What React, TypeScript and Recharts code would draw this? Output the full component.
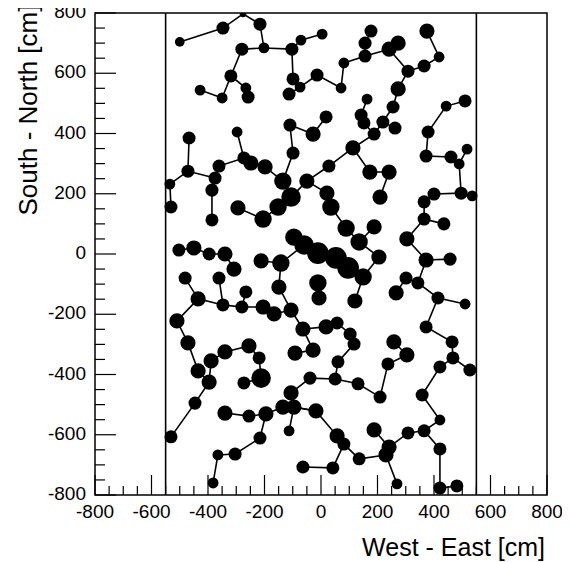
import React from 'react';
import { ScatterChart, Scatter, XAxis, YAxis, ZAxis, ReferenceLine, ReferenceArea } from 'recharts';

// Hit positions [id, West-East cm, South-North cm, pulse amplitude]
const nodesNorth: [string, number, number, number][] = [
  ['A1', -500, 704, 20], ['A2', -347, 750, 36], ['A3', -276, 797, 9], ['A4', -216, 763, 36],
  ['A5', -202, 684, 25], ['A6', -280, 680, 36], ['A7', -103, 680, 36], ['A8', -71, 710, 25],
  ['A9', 4, 730, 25], ['A10', -319, 591, 36], ['A11', -266, 551, 25], ['A12', -258, 521, 36],
  ['A13', -428, 544, 25], ['A14', -350, 518, 25], ['A15', -99, 581, 36], ['A16', -74, 554, 25],
  ['A17', -113, 531, 36], ['A18', -14, 594, 36], ['A19', -110, 428, 36], ['A20', -297, 405, 25],
  ['B1', 177, 740, 36], ['B2', 156, 700, 36], ['B3', 156, 657, 36], ['B4', 81, 634, 25],
  ['B5', 71, 551, 25], ['B6', 241, 680, 49], ['B7', 273, 700, 49], ['B8', 308, 607, 36],
  ['B9', 365, 624, 36], ['B10', 418, 654, 25], ['B11', 375, 740, 49], ['B12', 273, 548, 49],
  ['B13', 255, 488, 36], ['B14', 219, 438, 36], ['B15', 262, 418, 36], ['B16', 163, 514, 25],
  ['B17', 142, 461, 36], ['B18', 152, 435, 36], ['B19', 18, 455, 36], ['B20', 443, 491, 25],
  ['B21', 510, 508, 36], ['B22', 379, 405, 36],
];

const nodesUpper: [string, number, number, number][] = [
  ['C1', -28, 398, 49], ['C2', -467, 385, 36], ['C3', -99, 335, 36], ['C4', -273, 319, 36],
  ['C5', -248, 302, 49], ['C6', -361, 292, 36], ['C7', -198, 289, 49], ['C8', -471, 275, 36],
  ['C9', -375, 252, 36], ['C10', -535, 232, 25], ['C11', -135, 242, 64], ['C12', -50, 242, 49],
  ['C13', -386, 212, 36], ['C14', -106, 189, 81], ['C15', -152, 156, 64], ['C16', -531, 156, 36],
  ['C17', -294, 153, 49], ['C18', -205, 116, 64], ['C19', -386, 113, 36], ['C20', -96, 56, 64],
  ['C21', -60, 30, 81],
  ['D1', 188, 398, 36], ['D2', 113, 352, 49], ['D3', 372, 325, 36], ['D4', 460, 322, 36],
  ['D5', 489, 299, 25], ['D6', 517, 348, 25], ['D7', 173, 272, 49], ['D8', 241, 272, 49],
  ['D9', 209, 189, 49], ['D10', 28, 292, 36], ['D11', 21, 202, 49], ['D12', 35, 156, 64],
  ['D13', 89, 86, 64], ['D14', 188, 90, 49], ['D15', 135, 40, 64], ['D16', 400, 199, 36],
  ['D17', 365, 173, 36], ['D18', 496, 202, 36], ['D19', 535, 193, 25], ['D20', 365, 116, 36],
  ['D21', 435, 100, 36], ['D22', 304, 50, 49],
];

const nodesMiddle: [string, number, number, number][] = [
  ['E1', -503, 13, 36], ['E2', -450, 20, 49], ['E3', -396, 0, 36], ['E4', -340, 0, 49],
  ['E5', -308, -50, 49], ['E6', -212, -23, 49], ['E7', -142, -30, 64], ['E9', -11, 3, 100],
  ['E10', -481, -80, 36], ['E11', -361, -80, 36], ['E12', -266, -126, 36], ['E13', -149, -110, 49],
  ['E14', -11, -96, 64], ['E15', -7, -146, 49], ['E16', -435, -149, 49], ['E17', -347, -169, 36],
  ['E18', -280, -176, 36], ['E19', -205, -176, 49], ['E20', -166, -199, 49], ['E21', -106, -186, 49],
  ['E22', -510, -222, 49], ['E23', -64, -249, 49], ['E24', -28, -319, 49], ['E25', -92, -329, 49],
  ['E26', -471, -295, 49], ['E27', -340, -325, 49], ['E28', -255, -305, 49], ['E29', -219, -345, 36],
  ['E30', -389, -355, 49],
  ['F2', 53, -13, 100], ['F3', 96, -46, 100], ['F5', 205, -10, 49], ['F6', 149, -76, 64],
  ['F9', 120, -156, 49], ['F11', 372, -20, 49], ['F12', 457, -17, 36], ['F13', 301, -80, 36],
  ['F14', 343, -96, 36], ['F15', 266, -129, 49], ['F16', 414, -146, 36], ['F17', 510, -166, 25],
  ['F18', 372, -242, 36], ['F19', 464, -292, 36], ['F20', 467, -345, 36], ['F21', 527, -385, 36],
  ['F22', 421, -375, 36], ['F23', 18, -242, 49], ['F24', 57, -229, 36], ['F25', 103, -266, 36],
  ['F26', 117, -299, 36], ['F28', 60, -358, 36], ['F29', 258, -292, 49], ['F30', 304, -335, 49],
  ['F31', 237, -365, 36],
];

const nodesSouth: [string, number, number, number][] = [
  ['G1', -435, -388, 49], ['G2', -396, -425, 49], ['G3', -446, -495, 36], ['G4', -531, -607, 36],
  ['G5', -212, -412, 81], ['G6', -273, -428, 36], ['G8', -106, -461, 49], ['G9', -39, -412, 36],
  ['G10', -340, -528, 49], ['G11', -255, -538, 36], ['G12', -195, -531, 49], ['G13', -135, -508, 49],
  ['G14', -96, -508, 49], ['G15', -18, -521, 49], ['G16', -113, -587, 25], ['G17', -216, -611, 36],
  ['G18', -304, -664, 36], ['G19', -365, -667, 25], ['G20', -382, -760, 25], ['G21', -64, -707, 36],
  ['H1', 50, -415, 36], ['H2', 131, -431, 36], ['H3', 209, -475, 36], ['H5', 358, -468, 36],
  ['H6', 421, -551, 25], ['H7', 57, -604, 49], ['H8', 81, -631, 36], ['H9', 188, -584, 49],
  ['H10', 135, -680, 36], ['H11', 241, -641, 49], ['H12', 230, -667, 49], ['H13', 308, -594, 36],
  ['H14', 365, -587, 36], ['H15', 421, -647, 36], ['H16', 42, -710, 36], ['H17', 269, -763, 25],
  ['H18', 421, -777, 36], ['H19', 481, -770, 36],
];

// Connections (spanning-tree branches) by hit id
const branches: string[][] = [
  ['A1', 'A2', 'A3', 'A4', 'A5', 'A6', 'A10', 'A11', 'A12'],
  ['A10', 'A14', 'A13'],
  ['A5', 'A7', 'A8', 'A9'],
  ['A7', 'A15', 'A16', 'A17'],
  ['A16', 'A18', 'B5', 'B4', 'B3', 'B2', 'B1'],
  ['B3', 'B6', 'B7'],
  ['B6', 'B8', 'B9', 'B10', 'B11'],
  ['B8', 'B12', 'B13', 'B14', 'B15'],
  ['B14', 'D1', 'D2'],
  ['B16', 'B17', 'B18', 'D1'],
  ['B19', 'C1', 'A19', 'C3', 'C11', 'C7', 'C5', 'C4', 'A20'],
  ['C4', 'C6', 'C9', 'C8', 'C2'],
  ['C8', 'C10', 'C16'],
  ['C9', 'C13', 'C19'],
  ['C11', 'C14', 'C12', 'D10', 'D2', 'D7', 'D8', 'D9'],
  ['C14', 'C15', 'C18', 'C17'],
  ['C12', 'D11', 'D12', 'D13', 'D15', 'F5', 'F6', 'F9'],
  ['D14', 'D15'],
  ['B21', 'B20', 'B22', 'D3', 'D4', 'D5', 'D6'],
  ['D5', 'D18', 'D19'],
  ['D18', 'D16', 'D17', 'D20', 'D21'],
  ['D20', 'D22', 'F11', 'F12'],
  ['F11', 'F14', 'F13', 'F15'],
  ['F14', 'F16', 'F17'],
  ['F16', 'F18', 'F19', 'F20', 'F21'],
  ['F20', 'F22', 'H5', 'H6', 'H14', 'H13', 'H11', 'H9'],
  ['H14', 'H15', 'H18', 'H19'],
  ['H11', 'H12', 'H17'],
  ['H12', 'H10', 'H8', 'H7', 'G15', 'G14'],
  ['H8', 'H16', 'G21'],
  ['C20', 'C21', 'E9', 'F2', 'F3', 'F6'],
  ['E6', 'E7', 'C21'],
  ['E1', 'E2', 'E3', 'E4', 'E5'],
  ['E7', 'E13', 'E21', 'E23', 'E24', 'E25'],
  ['E21', 'E20', 'E19', 'E18', 'E12'],
  ['E18', 'E17', 'E11'],
  ['E17', 'E16', 'E10'],
  ['E16', 'E22', 'E26', 'G1', 'G2', 'G3', 'G4'],
  ['E30', 'G2'],
  ['E30', 'E27', 'E28', 'E29', 'G5', 'G6'],
  ['E23', 'F23', 'F24', 'F25', 'F26', 'F28', 'H1'],
  ['G9', 'H1', 'H2', 'H3', 'F31', 'F30', 'F29'],
  ['G9', 'G8', 'G14', 'G15'],
  ['G14', 'G16'],
  ['G14', 'G13', 'G12', 'G11', 'G10'],
  ['G12', 'G17', 'G18', 'G19', 'G20'],
  ['E14', 'E15'],
];

const detectorEdges = [-550, 550];
const axisTicks = [
  -800, -750, -700, -650, -600, -550, -500, -450, -400, -350, -300, -250, -200, -150, -100, -50,
  0, 50, 100, 150, 200, 250, 300, 350, 400, 450, 500, 550, 600, 650, 700, 750, 800,
];
const tickLabels = [-800, -600, -400, -200, 0, 200, 400, 600, 800];

const FONT = '"Liberation Sans", Arial, Helvetica, sans-serif';

type Hit = { id: string; x: number; y: number; e: number };
const allHits: Hit[] = [...nodesNorth, ...nodesUpper, ...nodesMiddle, ...nodesSouth].map(
  ([id, x, y, e]) => ({ id, x, y, e })
);
const hitMap: Record<string, Hit> = {};
allHits.forEach((h) => (hitMap[h.id] = h));

const XTick = (props: any) => {
  const { x, y, payload } = props;
  const v = payload.value;
  const major = tickLabels.includes(v);
  return (
    <g>
      <line x1={x} x2={x} y1={y} y2={y - (major ? 20 : 9)} stroke="#000" strokeWidth={1.2} />
      {major && (
        <text x={x} y={y + 23} textAnchor="middle" fontSize={19} fontFamily={FONT} fill="#000">
          {v}
        </text>
      )}
    </g>
  );
};

const YTick = (props: any) => {
  const { x, y, payload } = props;
  const v = payload.value;
  const major = tickLabels.includes(v);
  return (
    <g>
      <line x1={x} x2={x + (major ? 21 : 10)} y1={y} y2={y} stroke="#000" strokeWidth={1.2} />
      {major && (
        <text x={x - 9} y={y + 5} textAnchor="end" fontSize={19} fontFamily={FONT} fill="#000">
          {v}
        </text>
      )}
    </g>
  );
};

const NoDot = () => <g />;

export default function App() {
  return (
    <div
      style={{
        position: 'relative',
        width: 562,
        height: 562,
        marginTop: -8,
        background: '#fff',
        fontFamily: FONT,
      }}
    >
      <ScatterChart width={562} height={562} margin={{ top: 13, right: 23, left: 0, bottom: 0 }}>
        <XAxis
          type="number"
          dataKey="x"
          domain={[-800, 800]}
          ticks={axisTicks}
          interval={0}
          allowDataOverflow
          axisLine={false}
          tickLine={false}
          tickSize={0}
          tickMargin={0}
          height={67}
          tick={<XTick />}
        />
        <YAxis
          type="number"
          dataKey="y"
          domain={[-800, 800]}
          ticks={axisTicks}
          interval={0}
          allowDataOverflow
          axisLine={false}
          tickLine={false}
          tickSize={0}
          tickMargin={0}
          width={87}
          tick={<YTick />}
        />
        <ZAxis type="number" dataKey="e" domain={[0, 100]} range={[0, 370]} />
        <ReferenceArea x1={-800} x2={800} y1={-800} y2={800} fill="none" stroke="#000" strokeWidth={1.5} />
        {detectorEdges.map((v) => (
          <ReferenceLine key={v} x={v} stroke="#000" strokeWidth={1.6} />
        ))}
        {branches.map((b, i) => (
          <Scatter
            key={'b' + i}
            data={b.map((id) => hitMap[id])}
            line={{ stroke: '#000', strokeWidth: 1.6 }}
            lineType="joint"
            shape={NoDot}
            isAnimationActive={false}
            legendType="none"
          />
        ))}
        <Scatter data={allHits} fill="#000" isAnimationActive={false} legendType="none" />
      </ScatterChart>
      <div
        style={{
          position: 'absolute',
          left: 20,
          top: 110,
          transform: 'translate(-50%, -50%) rotate(-90deg)',
          whiteSpace: 'nowrap',
          fontSize: 26,
          lineHeight: '28px',
        }}
      >
        South - North [cm]
      </div>
      <div
        style={{
          position: 'absolute',
          right: 25,
          top: 533,
          whiteSpace: 'nowrap',
          fontSize: 25,
          lineHeight: '28px',
        }}
      >
        West - East [cm]
      </div>
    </div>
  );
}
